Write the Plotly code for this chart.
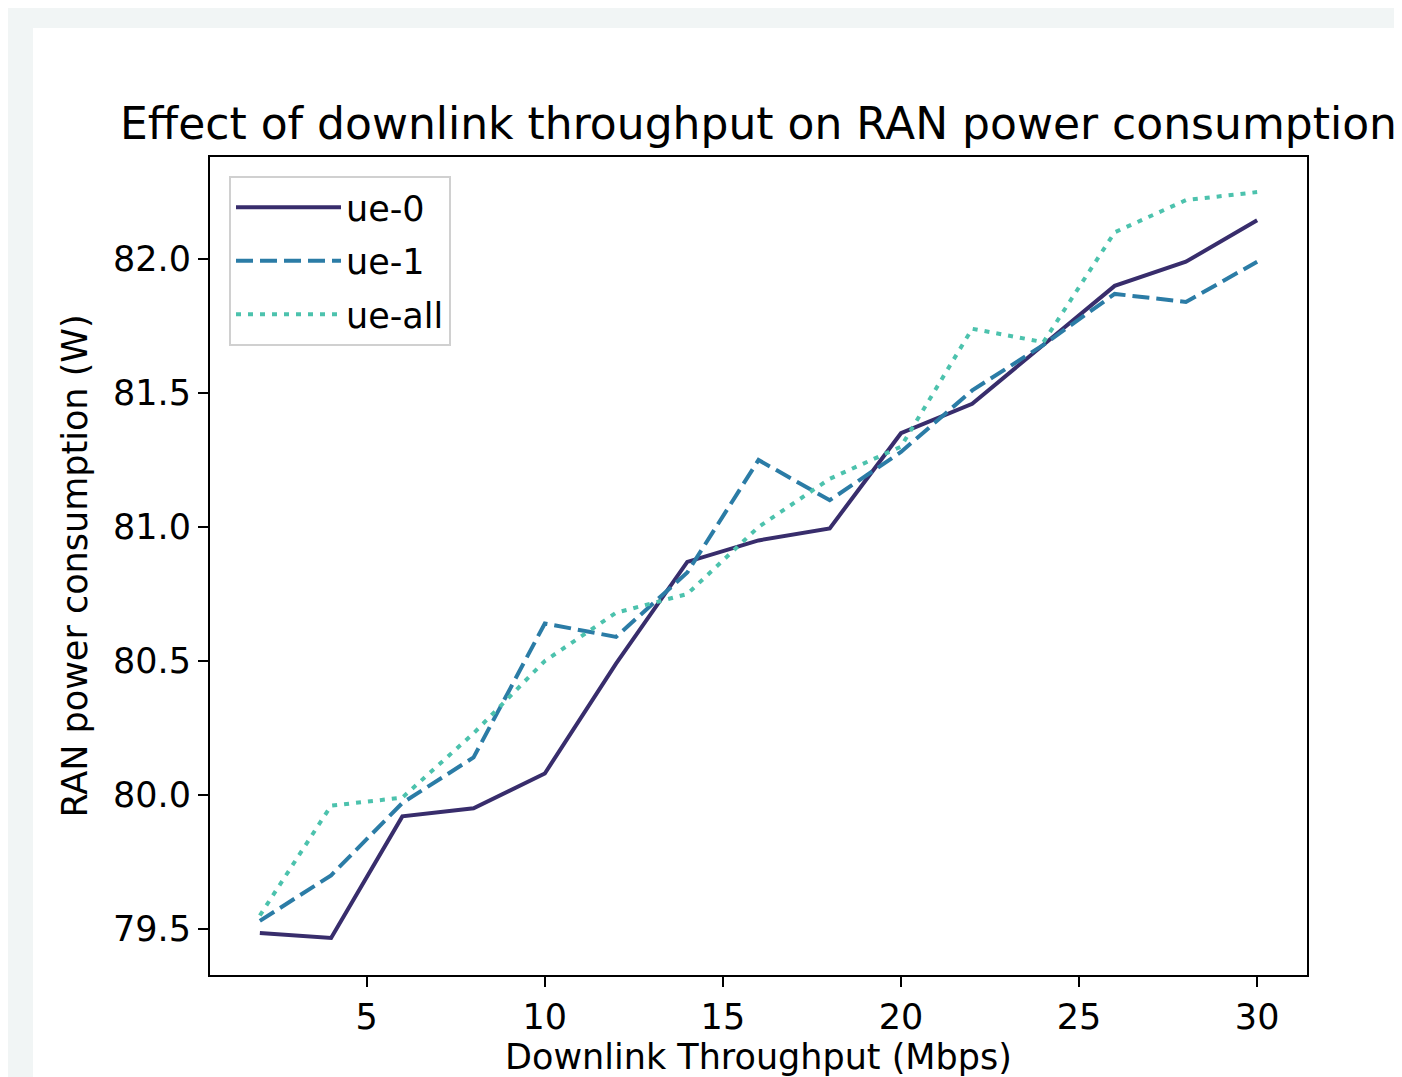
import plotly.graph_objects as go

throughput = [2, 4, 6, 8, 10, 12, 14, 16, 18, 20, 22, 24, 26, 28, 30]
ue0 = [79.485, 79.466, 79.92, 79.95, 80.08, 80.49, 80.87, 80.95, 80.995, 81.35, 81.46, 81.68, 81.90, 81.99, 82.145]
ue1 = [79.53, 79.70, 79.97, 80.14, 80.64, 80.59, 80.83, 81.25, 81.10, 81.28, 81.51, 81.68, 81.87, 81.84, 81.99]
ueall = [79.55, 79.96, 79.99, 80.23, 80.50, 80.68, 80.75, 81.00, 81.18, 81.30, 81.74, 81.69, 82.10, 82.22, 82.25]

series_names = ["ue-0", "ue-1", "ue-all"]
colors = ["#382d6c", "#2b7ca6", "#4cc2ad"]
dashes = ["solid", "17px,7px", "5px,7px"]

# page has an 8px body margin; build the figure in shifted coordinates
OFF = 8
W, H = 1402 - OFF, 1077 - OFF
L, R, T, B = 210 - OFF, 1307 - OFF, 157 - OFF, 975 - OFF
pw, ph = R - L, B - T

fig = go.Figure()
for name, ys, c, d in zip(series_names, [ue0, ue1, ueall], colors, dashes):
    fig.add_trace(go.Scatter(x=throughput, y=ys, mode="lines", name=name,
                             legendgroup=name,
                             line=dict(color=c, width=4, dash=d)))

def px_x(p):
    return (p - OFF - L) / pw

def px_y(p):
    return (B - (p - OFF)) / ph

font = dict(family="DejaVu Sans", size=35, color="black")

fig.update_layout(
    width=W, height=H,
    margin=dict(l=L, r=W - R, t=T, b=H - B, pad=0, autoexpand=False),
    paper_bgcolor="#f1f5f5",
    plot_bgcolor="white",
    font=font,
    title=dict(text="Effect of downlink throughput on RAN power consumption",
               font=dict(family="DejaVu Sans", size=44, color="black"),
               x=(L + R) / 2 / W, xref="container", xanchor="center",
               y=1 - (139 - OFF) / H, yref="container", yanchor="bottom"),
    shapes=[dict(type="rect", xref="paper", yref="paper",
                 x0=px_x(33), x1=px_x(1420), y0=px_y(1100), y1=px_y(28),
                 fillcolor="white", line=dict(width=0), layer="below")],
    xaxis=dict(range=[0.6, 31.4], tickvals=[5, 10, 15, 20, 25, 30],
               showgrid=False, zeroline=False, automargin=False,
               showline=True, linecolor="black", linewidth=2, mirror=True,
               ticks="outside", ticklen=10, tickwidth=2, tickcolor="black",
               tickfont=font,
               title=dict(text="Downlink Throughput (Mbps)", font=font, standoff=10)),
    yaxis=dict(range=[79.328, 82.381], tickvals=[79.5, 80.0, 80.5, 81.0, 81.5, 82.0],
               ticktext=["79.5", "80.0", "80.5", "81.0", "81.5", "82.0"],
               showgrid=False, zeroline=False, automargin=False,
               showline=True, linecolor="black", linewidth=2, mirror=True,
               ticks="outside", ticklen=10, tickwidth=2, tickcolor="black",
               tickfont=font,
               title=dict(text="RAN power consumption (W)", font=font, standoff=15)),
    legend=dict(x=px_x(229), y=px_y(176), xanchor="left", yanchor="top",
                bgcolor="rgba(255,255,255,0.8)", bordercolor="#d0d0d0", borderwidth=2,
                font=font, tracegroupgap=5, itemwidth=105),
    showlegend=True,
)

fig.write_html("out.html")
